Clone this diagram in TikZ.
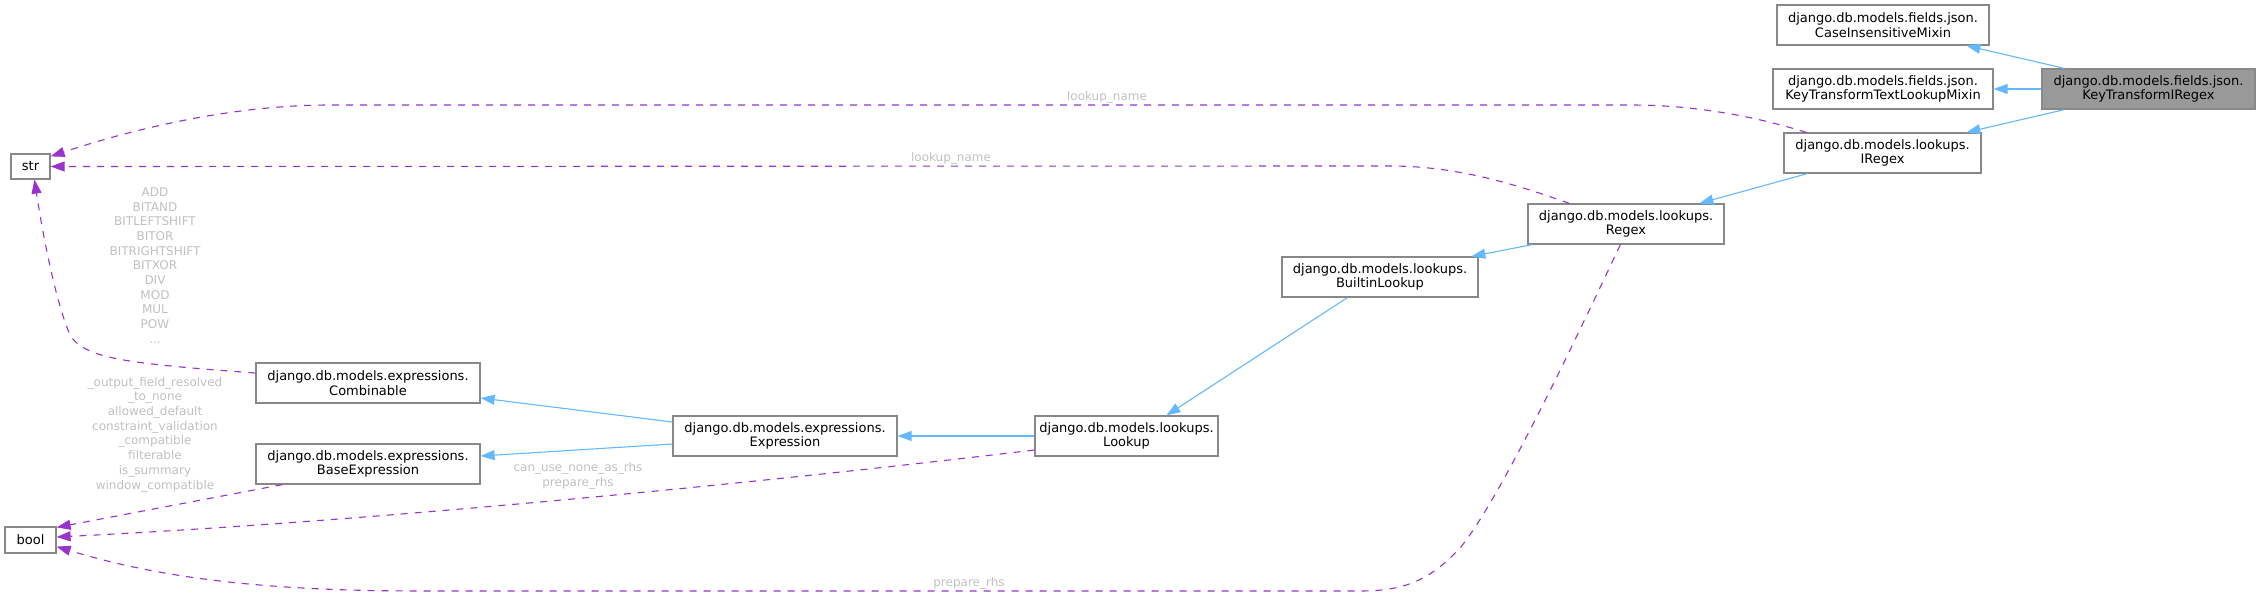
\documentclass[tikz,border=0pt]{standalone}
\usepackage{fontspec}
\setmainfont{DejaVu Sans}
\usetikzlibrary{arrows.meta,calc}
\definecolor{inhblue}{RGB}{99,184,255}
\definecolor{usepurple}{RGB}{154,50,205}
\definecolor{lblgray}{RGB}{192,192,192}
\definecolor{boxgray}{RGB}{136,136,136}
\definecolor{hlfill}{RGB}{153,153,153}
\begin{document}
\begin{tikzpicture}[x=1pt,y=-1pt,
  box/.style={draw=boxgray, line width=1.2pt, fill=white, inner sep=0pt, minimum height=40pt, align=center, font=\fontsize{13}{14.5}\selectfont},
  hlbox/.style={box, fill=hlfill},
  smallbox/.style={box, minimum height=25pt},
  inh/.style={draw=inhblue, line width=1.1pt, -{Triangle[length=14pt,width=10pt]}},
  use/.style={draw=usepurple, line width=1.1pt, dash pattern=on 7pt off 7pt, -{Triangle[length=14pt,width=10pt]}},
  lbl/.style={text=lblgray, inner sep=0pt, align=center, font=\fontsize{12}{14.7}\selectfont}]
\useasboundingbox (0,0) rectangle (2260,596);

% nodes
\node[box, minimum width=212pt] (cim) at (1883,25) {django.db.models.fields.json.\\CaseInsensitiveMixin};
\node[box, minimum width=220pt] (kttlm) at (1883,89) {django.db.models.fields.json.\\KeyTransformTextLookupMixin};
\node[hlbox, minimum width=213pt] (ktir) at (2148.5,89) {django.db.models.fields.json.\\KeyTransformIRegex};
\node[box, minimum width=197pt] (iregex) at (1882.5,153) {django.db.models.lookups.\\IRegex};
\node[box, minimum width=196pt] (regex) at (1626,224) {django.db.models.lookups.\\Regex};
\node[box, minimum width=196pt] (builtin) at (1380,277) {django.db.models.lookups.\\BuiltinLookup};
\node[box, minimum width=183pt] (lookup) at (1126.5,436) {django.db.models.lookups.\\Lookup};
\node[box, minimum width=224pt] (expr) at (785,436) {django.db.models.expressions.\\Expression};
\node[box, minimum width=224pt] (comb) at (368,383) {django.db.models.expressions.\\Combinable};
\node[box, minimum width=224pt] (baseexpr) at (368,464) {django.db.models.expressions.\\BaseExpression};
\node[smallbox, minimum width=39pt] (str) at (30.5,166.5) {str};
\node[smallbox, minimum width=51pt, minimum height=26pt] (bool) at (30.5,540) {bool};

% inheritance
\draw[inh] ($(ktir.north west)+(23,0)$) -- ($(cim.south west)+(190,0)$);
\draw[inh] (ktir.west) -- (kttlm.east);
\draw[inh] ($(ktir.south west)+(23,0)$) -- ($(iregex.north west)+(183,0)$);
\draw[inh] ($(iregex.south west)+(24,0)$) -- ($(regex.north west)+(172,0)$);
\draw[inh] ($(regex.south west)+(5,0)$) -- ($(builtin.north west)+(190,0)$);
\draw[inh] ($(builtin.south west)+(66,0)$) -- ($(lookup.north west)+(132,0)$);
\draw[inh] (lookup.west) -- (expr.east);
\draw[inh] ($(expr.west)+(0,-14)$) -- ($(comb.east)+(0,15)$);
\draw[inh] ($(expr.west)+(0,8)$) -- ($(baseexpr.east)+(0,-8)$);

% usage
\draw[use] ($(iregex.north west)+(23,0)$) .. controls (1760,118) and (1700,105) .. (1630,105) -- (330,105) .. controls (230,105) and (130,130) .. ($(str.north east)+(0,3)$);
\draw[use] ($(regex.north west)+(42,0)$) .. controls (1520,186) and (1460,166) .. (1390,166) -- (str.east);
\draw[use] ($(comb.west)+(0,-10)$) .. controls (120,363) and (85,358) .. (70,335) .. controls (55,300) and (42,230) .. ($(str.south)+(4,0)$);
\draw[use] ($(baseexpr.south west)+(27,0)$) -- ($(bool.north east)+(0,1)$);
\draw[use] ($(lookup.west)+(0,14)$) .. controls (800,478) and (400,520) .. ($(bool.east)+(0,-3)$);
\draw[use] ($(regex.south west)+(93,0)$) .. controls (1580,330) and (1500,500) .. (1460,548) .. controls (1430,580) and (1405,591) .. (1360,591) -- (420,591) .. controls (250,591) and (150,575) .. ($(bool.south east)+(0,-7)$);

% labels
\node[lbl] (l1) at (1107,97) {lookup\_name};
\node[lbl] (l2) at (951,158) {lookup\_name};
\node[lbl] (l3) at (155,265.5) {ADD\\BITAND\\BITLEFTSHIFT\\BITOR\\BITRIGHTSHIFT\\BITXOR\\DIV\\MOD\\MUL\\POW\\...};
\node[lbl] (l4) at (155,434.5) {\_output\_field\_resolved\\\_to\_none\\allowed\_default\\constraint\_validation\\\_compatible\\filterable\\is\_summary\\window\_compatible};
\node[lbl] (l5) at (578,476) {can\_use\_none\_as\_rhs\\prepare\_rhs};
\node[lbl] (l6) at (969,583) {prepare\_rhs};
\end{tikzpicture}
\end{document}
